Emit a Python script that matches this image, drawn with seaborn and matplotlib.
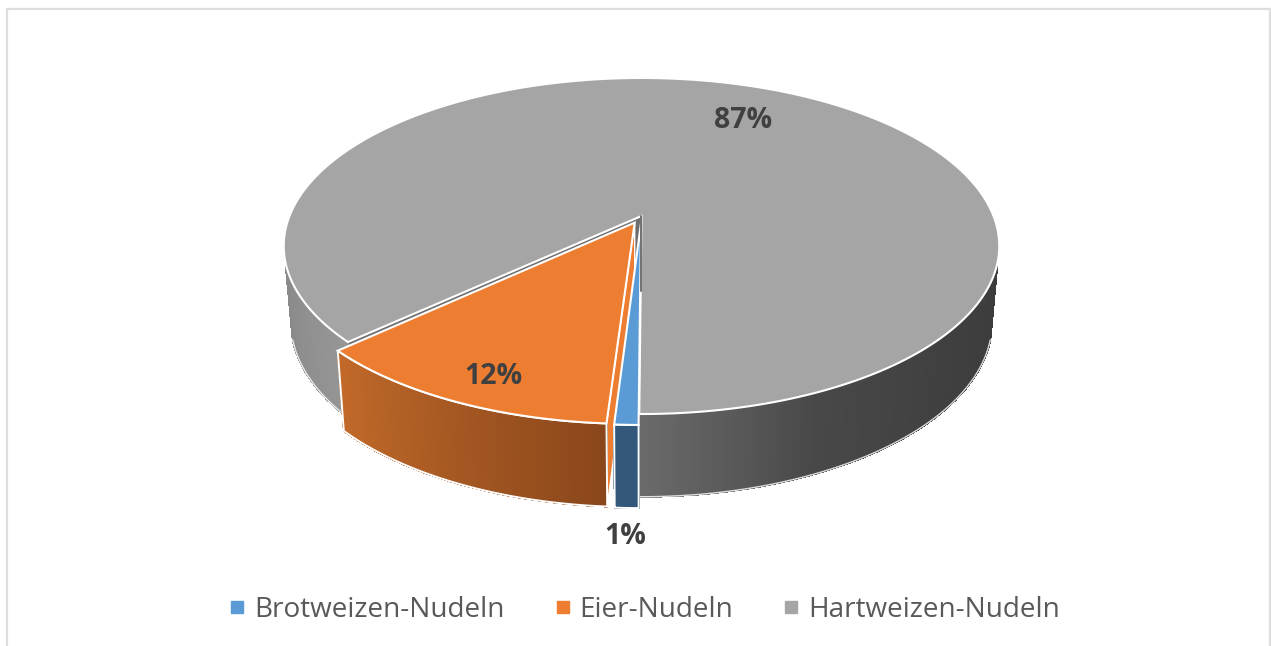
import numpy as np
from matplotlib import pyplot as plt
from matplotlib.lines import Line2D
from matplotlib.patches import Polygon, Rectangle
import seaborn as sns

sns.set_theme(style="white")
plt.rcParams["font.family"] = ["Open Sans", "DejaVu Sans"]

# data
names = ["Brotweizen-Nudeln", "Eier-Nudeln", "Hartweizen-Nudeln"]
shares = [0.9, 12.1, 87.0]
top_colors = ["#5b9bd5", "#ed7d31", "#a5a5a5"]
wall_colors = [["#33587c", "#33587c"], ["#c26a2a", "#8a471b"], ["#969696", "#8a8a8a"]]
grey_right_wall = ["#3c3c3c", "#404040", "#484848", "#6a6a6a"]
label_pos = [(625, 537), (493, 377), (743, 121)]
explode = [0.045, 0.045, 0.0]
start_angle = 0.3

fig, ax = plt.subplots(figsize=(12.71, 6.46), dpi=100)
fig.subplots_adjust(0, 0, 1, 1)
ax.set_xlim(0, 1271)
ax.set_ylim(646, 0)
ax.axis("off")

# chart frame
fig.add_artist(Rectangle((7 / 1271, -0.05), 1263 / 1271, 1 - 9 / 646 + 0.05, transform=fig.transFigure,
                         fill=False, edgecolor="#dedede", linewidth=1.6))

# perspective of the pie disc
cx, cy = 641.5, 216
rad_x, rad_y, persp = 352, -124.07, 0.1786


def top_face(u, v):
    w = 1 + persp * v
    return cx + rad_x * u / w, (cy + rad_y * v) / w


def bottom_face(x, y):
    return cx + (x - cx) * 0.98, 322 + (y - 246) * 1.04


def arc(start, end, off, n=200):
    phi = np.radians(np.linspace(start, end, n))
    return top_face(off[0] - np.sin(phi), off[1] - np.cos(phi))


def outer_wall(start, end, off, colors, n=150, outline=True):
    xs, ys = arc(start, end, off, n)
    xb, yb = bottom_face(xs, ys)
    pal = sns.blend_palette(colors, n_colors=n - 1)
    for i in range(n - 1):
        quad = [(xs[i], ys[i]), (xs[i + 1], ys[i + 1]), (xb[i + 1], yb[i + 1]), (xb[i], yb[i])]
        ax.add_patch(Polygon(quad, facecolor=pal[i], edgecolor=pal[i], linewidth=0.8, antialiased=False))
    if outline:
        pts = list(zip(xs, ys)) + list(zip(xb[::-1], yb[::-1]))
        ax.add_patch(Polygon(pts, fill=False, edgecolor="white", linewidth=1.4))
    else:
        # soften the jagged silhouette
        ax.plot(xb, yb, color="white", linewidth=1.0, alpha=0.8, zorder=1)


edges = start_angle + np.concatenate([[0], np.cumsum(shares)]) * 3.6
mids = (edges[:-1] + edges[1:]) / 2
offsets = [(-e * np.sin(np.radians(m)), -e * np.cos(np.radians(m))) for e, m in zip(explode, mids)]

# grey slice first, it sits behind the others
g_start, g_end = edges[2], edges[3]
apex = top_face(*offsets[2])
xs, ys = arc(g_start, g_start, offsets[2], 1)
xb, yb = bottom_face(xs[0], ys[0])
axb, ayb = bottom_face(*apex)
ax.add_patch(Polygon([apex, (xs[0], ys[0]), (xb, yb), (axb, ayb)], facecolor="#6e6e6e", edgecolor="#6e6e6e"))
outer_wall(g_start, 74, offsets[2], wall_colors[2], outline=False)
outer_wall(286, g_end, offsets[2], grey_right_wall, outline=False)
xs, ys = arc(g_start, g_end, offsets[2], 600)
ax.add_patch(Polygon([apex] + list(zip(xs, ys)), facecolor=top_colors[2], edgecolor="white", linewidth=1.5))
ax.add_line(Line2D([apex[0] - 0.5, axb - 0.5], [apex[1], ayb], color="#707070", linewidth=1.4))

# orange and blue in front
apex_o = top_face(*offsets[1])
xs, ys = arc(edges[1], edges[1], offsets[1], 1)
xb, yb = bottom_face(xs[0], ys[0])
axb, ayb = bottom_face(*apex_o)
ax.add_patch(Polygon([apex_o, (xs[0], ys[0]), (xb, yb), (axb, ayb)], facecolor=top_colors[1], edgecolor="white", linewidth=1))
outer_wall(edges[2], edges[1], offsets[1], wall_colors[1])
outer_wall(edges[1], edges[0], offsets[0], wall_colors[0], 20)
for i in [1, 0]:
    tip = top_face(*offsets[i])
    xs, ys = arc(edges[i], edges[i + 1], offsets[i], 100)
    ax.add_patch(Polygon([tip] + list(zip(xs, ys)), facecolor=top_colors[i], edgecolor="white", linewidth=1.5))

# data labels
for share, pos in zip(shares, label_pos):
    ax.text(pos[0], pos[1], f"{share:.0f}%", ha="center", va="center", fontsize=20.5,
            fontweight="bold", color="#404040")

# legend
handles = [Line2D([], [], linestyle="none", marker="s", markersize=8.6, color=c) for c in top_colors]
fig.legend(handles, names, loc="center", bbox_to_anchor=(644.5 / 1271, 1 - 610 / 646), ncol=3, frameon=False,
           fontsize=20.1, labelcolor="#595959", handlelength=0.6, handletextpad=0.31, columnspacing=1.78)

fig.savefig("out.png", dpi=100)
